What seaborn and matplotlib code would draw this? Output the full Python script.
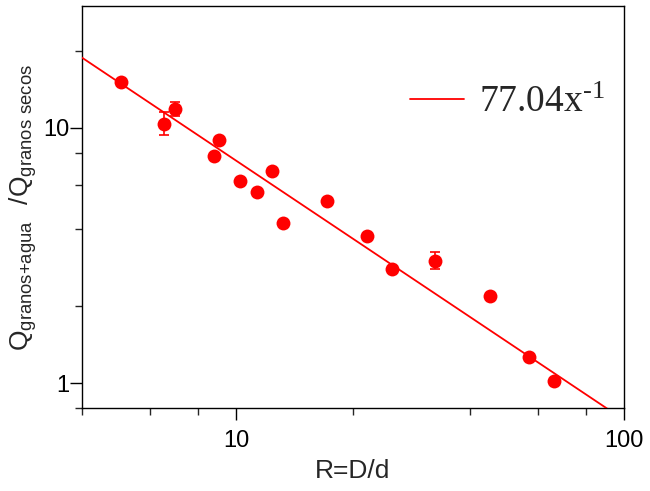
import matplotlib
matplotlib.use("Agg")
import matplotlib.pyplot as plt
import matplotlib.ticker as mticker
import numpy as np
import pandas as pd
import seaborn as sns

# data
ratio_R = [5.04, 6.50, 6.96, 9.04, 8.76, 10.24, 11.30, 12.41, 13.18,
           17.18, 21.7, 25.3, 32.6, 45.1, 56.8, 66.1]
q_ratio = [15.17, 10.37, 11.9, 8.98, 7.79, 6.21, 5.60, 6.79, 4.23,
           5.19, 3.76, 2.81, 3.02, 2.20, 1.27, 1.02]
err_low = [0, 0.98, 0.75, 0, 0, 0, 0, 0, 0, 0, 0, 0, 0.21, 0, 0, 0]
err_high = [0, 1.15, 0.77, 0, 0, 0, 0, 0, 0, 0, 0, 0, 0.24, 0, 0, 0]

# power law fit as drawn
fit_coef = 77.04
fit_exp = -1.015
fit_label = "$\\mathregular{77.04x^{\u20101}}$"

x_major = [10, 100]
x_minor = [4, 6, 8, 20, 40, 60, 80]
y_major = [1, 10]
y_minor = [0.8, 2, 4, 6, 8, 20]

red = "#ff0000"

sns.set_style("ticks")
plt.rcParams["font.family"] = ["Liberation Sans", "DejaVu Sans"]

df = pd.DataFrame({"R": ratio_R, "Q": q_ratio})
fit_x = np.geomspace(4, 100, 60)
fit_df = pd.DataFrame({"R": fit_x, "Q": fit_coef * fit_x ** fit_exp})

fig = plt.figure(figsize=(6.5, 4.91), dpi=100)
ax = fig.add_axes([0.1257, 0.169, 0.8343, 0.8188])

ax.errorbar(ratio_R, q_ratio, yerr=[err_low, err_high], fmt="none",
            ecolor=red, elinewidth=1.2, capsize=3.5, capthick=1.2, zorder=2)
sns.lineplot(data=fit_df, x="R", y="Q", color=red, linewidth=1.3,
             label=fit_label, ax=ax, zorder=3)
sns.scatterplot(data=df, x="R", y="Q", color=red, s=100, linewidth=0,
                ax=ax, zorder=4, legend=False)

ax.set_xscale("log")
ax.set_yscale("log")
ax.set_xlim(4, 100)
ax.set_ylim(0.8, 30)

ax.xaxis.set_major_locator(mticker.FixedLocator(x_major))
ax.xaxis.set_minor_locator(mticker.FixedLocator(x_minor))
ax.yaxis.set_major_locator(mticker.FixedLocator(y_major))
ax.yaxis.set_minor_locator(mticker.FixedLocator(y_minor))
ax.xaxis.set_major_formatter(mticker.FixedFormatter([str(v) for v in x_major]))
ax.yaxis.set_major_formatter(mticker.FixedFormatter([str(v) for v in y_major]))
ax.xaxis.set_minor_formatter(mticker.NullFormatter())
ax.yaxis.set_minor_formatter(mticker.NullFormatter())

ax.tick_params(which="major", direction="out", length=8.6, width=1.0,
               labelsize=17, colors="black")
ax.tick_params(which="minor", direction="out", length=4.8, width=1.0)
ax.tick_params(axis="y", which="major", pad=0.5)
ax.tick_params(axis="x", which="major", pad=7)

for side in ["top", "right", "bottom", "left"]:
    ax.spines[side].set_visible(True)
    ax.spines[side].set_color("black")
    ax.spines[side].set_linewidth(1.0)

ax.set_xlabel("R=D/d", fontsize=19, labelpad=5)
ax.set_ylabel(r"$\mathregular{Q_{granos{+}agua}\ \ /Q_{granos\ secos}}$",
              fontsize=19, labelpad=3)

ax.legend(loc="center left", bbox_to_anchor=(0.605, 0.76), frameon=False,
          borderaxespad=0, borderpad=0, handlelength=1.45, handletextpad=0.4,
          prop={"family": "Liberation Serif", "size": 27})

fig.savefig("out.png", dpi=100)
